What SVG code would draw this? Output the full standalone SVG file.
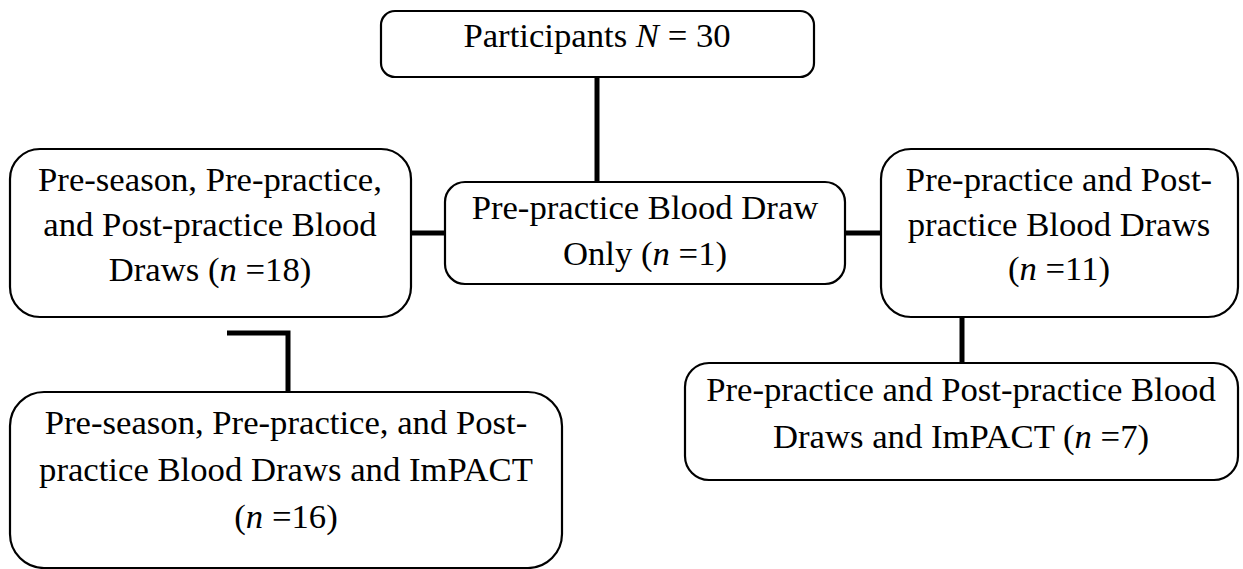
<svg xmlns="http://www.w3.org/2000/svg" width="1243" height="569" viewBox="0 0 1243 569">
<style>
.box{fill:#fff;stroke:#000;stroke-width:2.2}
.t{font-family:"Liberation Serif","Times New Roman",serif;font-size:34.7px;fill:#000;text-anchor:middle}
.i{font-style:italic}
.c{stroke:#000;stroke-width:5;fill:none}
</style>
<rect width="1243" height="569" fill="#fff"/>
<g id="connectors">
<line class="c" x1="597" y1="77" x2="597" y2="182"/>
<line class="c" x1="411" y1="233" x2="445" y2="233"/>
<line class="c" x1="845" y1="233" x2="881" y2="233"/>
<line class="c" x1="962" y1="317" x2="962" y2="363"/>
<polyline class="c" points="227,333 288,333 288,392"/>
</g>
<g id="participants">
<rect class="box" x="381" y="11" width="433" height="66" rx="14"/>
<text class="t" x="597" y="47">Participants <tspan class="i">N</tspan> = 30</text>
</g>
<g id="preseason">
<rect class="box" x="10" y="149" width="401" height="168" rx="30"/>
<text class="t" x="210" y="191">Pre-season, Pre-practice,</text>
<text class="t" x="210" y="236">and Post-practice Blood</text>
<text class="t" x="210" y="281">Draws (<tspan class="i">n</tspan> =18)</text>
</g>
<g id="preonly">
<rect class="box" x="445" y="182" width="400" height="102" rx="20"/>
<text class="t" x="645" y="219">Pre-practice Blood Draw</text>
<text class="t" x="645" y="265">Only (<tspan class="i">n</tspan> =1)</text>
</g>
<g id="prepost">
<rect class="box" x="881" y="149" width="357" height="168" rx="30"/>
<text class="t" x="1059" y="191">Pre-practice and Post-</text>
<text class="t" x="1059" y="236">practice Blood Draws</text>
<text class="t" x="1059" y="280">(<tspan class="i">n</tspan> =11)</text>
</g>
<g id="preseason-impact">
<rect class="box" x="10" y="392" width="552" height="176" rx="34"/>
<text class="t" x="286" y="434">Pre-season, Pre-practice, and Post-</text>
<text class="t" x="286" y="481">practice Blood Draws and ImPACT</text>
<text class="t" x="286" y="528">(<tspan class="i">n</tspan> =16)</text>
</g>
<g id="prepost-impact">
<rect class="box" x="685" y="363" width="553" height="117" rx="24"/>
<text class="t" x="961" y="401">Pre-practice and Post-practice Blood</text>
<text class="t" x="961" y="448">Draws and ImPACT (<tspan class="i">n</tspan> =7)</text>
</g>
</svg>
